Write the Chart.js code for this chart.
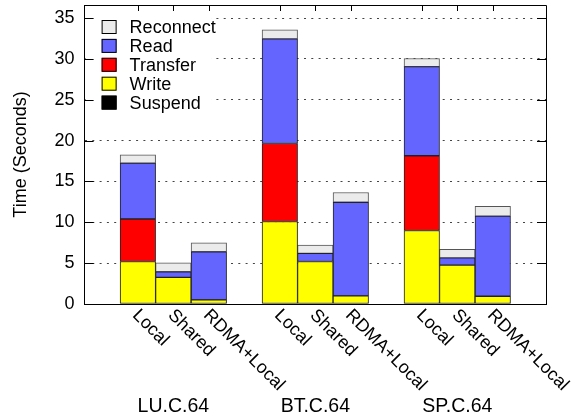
<!DOCTYPE html>
<html>
<head>
<meta charset="utf-8">
<script src="https://cdn.jsdelivr.net/npm/chart.js@4.4.0/dist/chart.umd.min.js"></script>
<style>
  body { margin: 0; background: #fff; }
</style>
</head>
<body>
<canvas id="mycanvas" width="586" height="419"></canvas>
<script>
// time split per run, bars go LU, BT, SP and inside each Local, Shared, RDMA+Local
var groups = ['LU.C.64', 'BT.C.64', 'SP.C.64'];
var configs = ['Local', 'Shared', 'RDMA+Local'];

var suspend   = [0, 0, 0,      0, 0, 0,       0, 0, 0];
var write     = [5.2, 3.25, 0.5,  10.1, 5.2, 1.0,   9.0, 4.75, 0.95];
var transfer  = [5.2, 0, 0,    9.55, 0, 0,    9.15, 0, 0];
var read      = [6.85, 0.7, 5.9,  12.8, 1.0, 11.45, 10.9, 0.9, 9.8];
var reconnect = [1.0, 1.1, 1.1,  1.1, 1.0, 1.2,   1.0, 1.05, 1.2];

var yTicks = [0, 5, 10, 15, 20, 25, 30, 35];
var FONT = '"Liberation Sans", Arial, sans-serif';

// one empty slot before, between and after the groups
var labels = [''];
for (var g = 0; g < groups.length; g++) {
	for (var c = 0; c < configs.length; c++) labels.push(configs[c]);
	labels.push('');
}

function spread(values) {
	var out = [null];
	for (var g = 0; g < groups.length; g++) {
		for (var c = 0; c < configs.length; c++) out.push(values[g * configs.length + c]);
		out.push(null);
	}
	return out;
}

function part(label, values, fill, edge) {
	return {
		label: label,
		data: spread(values),
		backgroundColor: fill,
		borderColor: edge,
		borderWidth: 1,
		borderSkipped: false,
		barPercentage: 1.0,
		categoryPercentage: 1.0
	};
}

var chartdata = {
	labels: labels,
	datasets: [
		part('Suspend', suspend, '#000000', '#000000'),
		part('Write', write, '#ffff00', '#222222'),
		part('Transfer', transfer, '#ff0000', '#222222'),
		part('Read', read, '#6464ff', '#222222'),
		part('Reconnect', reconnect, '#ebebeb', '#555555')
	]
};

// legend inside the plot, frame, inward ticks and the slanted labels
var decor = {
	id: 'decor',
	beforeDatasetsDraw: function(chart) {
		var ctx = chart.ctx;
		var a = chart.chartArea;
		var ds = chart.data.datasets;
		ctx.save();
		ctx.fillStyle = '#fff';
		ctx.fillRect(a.left + 1, a.top + 1, 126, 110);
		ctx.font = '18px ' + FONT;
		ctx.textBaseline = 'middle';
		ctx.textAlign = 'left';
		for (var k = 0; k < ds.length; k++) {
			var d = ds[ds.length - 1 - k];
			var y = a.top + 22 + k * 18.9;
			ctx.fillStyle = d.backgroundColor;
			ctx.fillRect(a.left + 17, y - 7, 15, 14);
			ctx.strokeStyle = '#000';
			ctx.lineWidth = 1;
			ctx.strokeRect(a.left + 17.5, y - 6.5, 14, 13);
			ctx.fillStyle = '#000';
			ctx.fillText(d.label, a.left + 45, y + 1);
		}
		ctx.restore();
	},
	afterDraw: function(chart) {
		var ctx = chart.ctx;
		var a = chart.chartArea;
		var xs = chart.scales.x;
		var ys = chart.scales.y;
		ctx.save();
		ctx.strokeStyle = '#000';
		ctx.lineWidth = 1;
		ctx.beginPath();
		ctx.moveTo(a.left, a.top + 0.5);
		ctx.lineTo(a.right + 0.5, a.top + 0.5);
		ctx.lineTo(a.right + 0.5, a.bottom);
		for (var t = 0; t < yTicks.length; t++) {
			var py = Math.round(ys.getPixelForValue(yTicks[t])) + 0.5;
			ctx.moveTo(a.left, py);
			ctx.lineTo(a.left + 9, py);
			ctx.moveTo(a.right, py);
			ctx.lineTo(a.right - 9, py);
		}
		for (var i = 0; i < labels.length; i++) {
			if (!labels[i]) continue;
			var px = Math.round(xs.getPixelForValue(i)) + 0.5;
			ctx.moveTo(px, a.top);
			ctx.lineTo(px, a.top + 6);
		}
		ctx.stroke();

		ctx.fillStyle = '#000';
		ctx.font = '18px ' + FONT;
		ctx.textAlign = 'left';
		ctx.textBaseline = 'middle';
		for (var j = 0; j < labels.length; j++) {
			if (!labels[j]) continue;
			ctx.save();
			ctx.translate(xs.getPixelForValue(j) - 2.5, a.bottom + 8.6);
			ctx.rotate(Math.PI / 4);
			ctx.fillText(labels[j], 0, 0);
			ctx.restore();
		}

		ctx.font = '19.5px ' + FONT;
		ctx.textAlign = 'center';
		ctx.textBaseline = 'alphabetic';
		for (var g = 0; g < groups.length; g++) {
			var mid = xs.getPixelForValue(g * (configs.length + 1) + 2);
			ctx.fillText(groups[g], mid, 412);
		}
		ctx.restore();
	}
};

var ctx = document.getElementById('mycanvas');

var barGraph = new Chart(ctx, {
	type: 'bar',
	data: chartdata,
	plugins: [decor],
	options: {
		responsive: false,
		animation: false,
		devicePixelRatio: 1,
		layout: {
			padding: { left: 6, right: 40, top: 5, bottom: 115 }
		},
		plugins: {
			legend: { display: false },
			tooltip: { enabled: false }
		},
		scales: {
			x: {
				stacked: true,
				offset: true,
				ticks: { display: false },
				grid: { display: false, drawTicks: false },
				border: { display: true, color: '#000', width: 1 }
			},
			y: {
				stacked: true,
				min: 0,
				max: 36.6,
				afterBuildTicks: function(scale) {
					scale.ticks = yTicks.map(function(v) { return { value: v }; });
				},
				afterFit: function(scale) {
					scale.paddingTop = 0;
					scale.paddingBottom = 0;
				},
				ticks: {
					color: '#000',
					font: { family: FONT, size: 18 },
					padding: 10
				},
				grid: {
					drawTicks: false,
					lineWidth: 1,
					color: function(c) { return c.tick && c.tick.value === 0 ? 'rgba(0,0,0,0)' : '#444'; }
				},
				border: { display: true, color: '#000', width: 1, dash: [2, 5.3] },
				title: {
					display: true,
					text: 'Time (Seconds)',
					color: '#000',
					font: { family: FONT, size: 18 },
					padding: { top: 4, bottom: 13 }
				}
			}
		}
	}
});
</script>
</body>
</html>
